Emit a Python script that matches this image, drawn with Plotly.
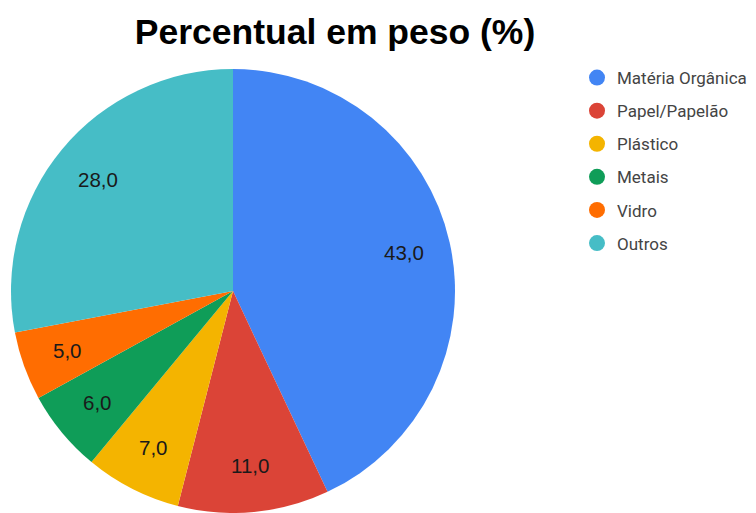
import math
import plotly.graph_objects as go

categories = ["Matéria Orgânica", "Papel/Papelão", "Plástico", "Metais", "Vidro", "Outros"]
values = [43.0, 11.0, 7.0, 6.0, 5.0, 28.0]
colors = ["#4285F4", "#DB4437", "#F4B400", "#0F9D58", "#FF6D01", "#46BDC6"]
labels_txt = [f"{v:.1f}".replace(".", ",") for v in values]

W, H = 756, 513
CX, CY, R = 233, 291, 222  # pie centre / radius in pixels (layout)
LABEL_FRAC = 0.79

fig = go.Figure()
fig.add_trace(go.Pie(
    labels=categories, values=values,
    textinfo="none",
    marker=dict(colors=colors, line=dict(width=0)),
    sort=False, direction="clockwise", rotation=0,
    domain=dict(x=[(CX - R) / W, (CX + R) / W],
                y=[max(0, (H - CY - R)) / H, (H - CY + R) / H]),
    showlegend=False, hoverinfo="label+value",
))

# slice labels placed along each slice's mid-angle
total = sum(values)
cum = 0.0
annotations = []
for v, t in zip(values, labels_txt):
    mid = (cum + v / 2) / total * 2 * math.pi
    cum += v
    px = CX + LABEL_FRAC * R * math.sin(mid)
    py = CY - LABEL_FRAC * R * math.cos(mid)
    annotations.append(dict(
        x=px / W, y=1 - py / H, xref="paper", yref="paper",
        text=t, showarrow=False, xanchor="center", yanchor="middle",
        font=dict(family="Arial", size=20.5, color="#1a1a1a"),
    ))

for i, (c, col) in enumerate(zip(categories, colors)):
    fig.add_trace(go.Scatter(
        x=[None], y=[None], mode="markers", name=c,
        marker=dict(symbol="circle", size=17, color=col),
        legendgroup=f"g{i}", showlegend=True,
    ))

fig.update_layout(
    width=W, height=H,
    margin=dict(l=0, r=0, t=0, b=0),
    paper_bgcolor="white", plot_bgcolor="white",
    title=dict(text="<b>Percentual em peso (%)</b>", x=335 / W, xanchor="center",
               y=1 - 32 / H, yanchor="middle",
               font=dict(family="Arial", size=35.5, color="#000000")),
    xaxis=dict(visible=False), yaxis=dict(visible=False),
    annotations=annotations,
    legend=dict(x=577 / W, y=1 - 60 / H, xanchor="left", yanchor="top",
                font=dict(family="Roboto", size=17, color="#444444"),
                tracegroupgap=8, itemwidth=30, bgcolor="rgba(0,0,0,0)"),
)
fig.write_html("out.html", config={"displayModeBar": False},
               post_script="document.body.style.margin='0px';")
